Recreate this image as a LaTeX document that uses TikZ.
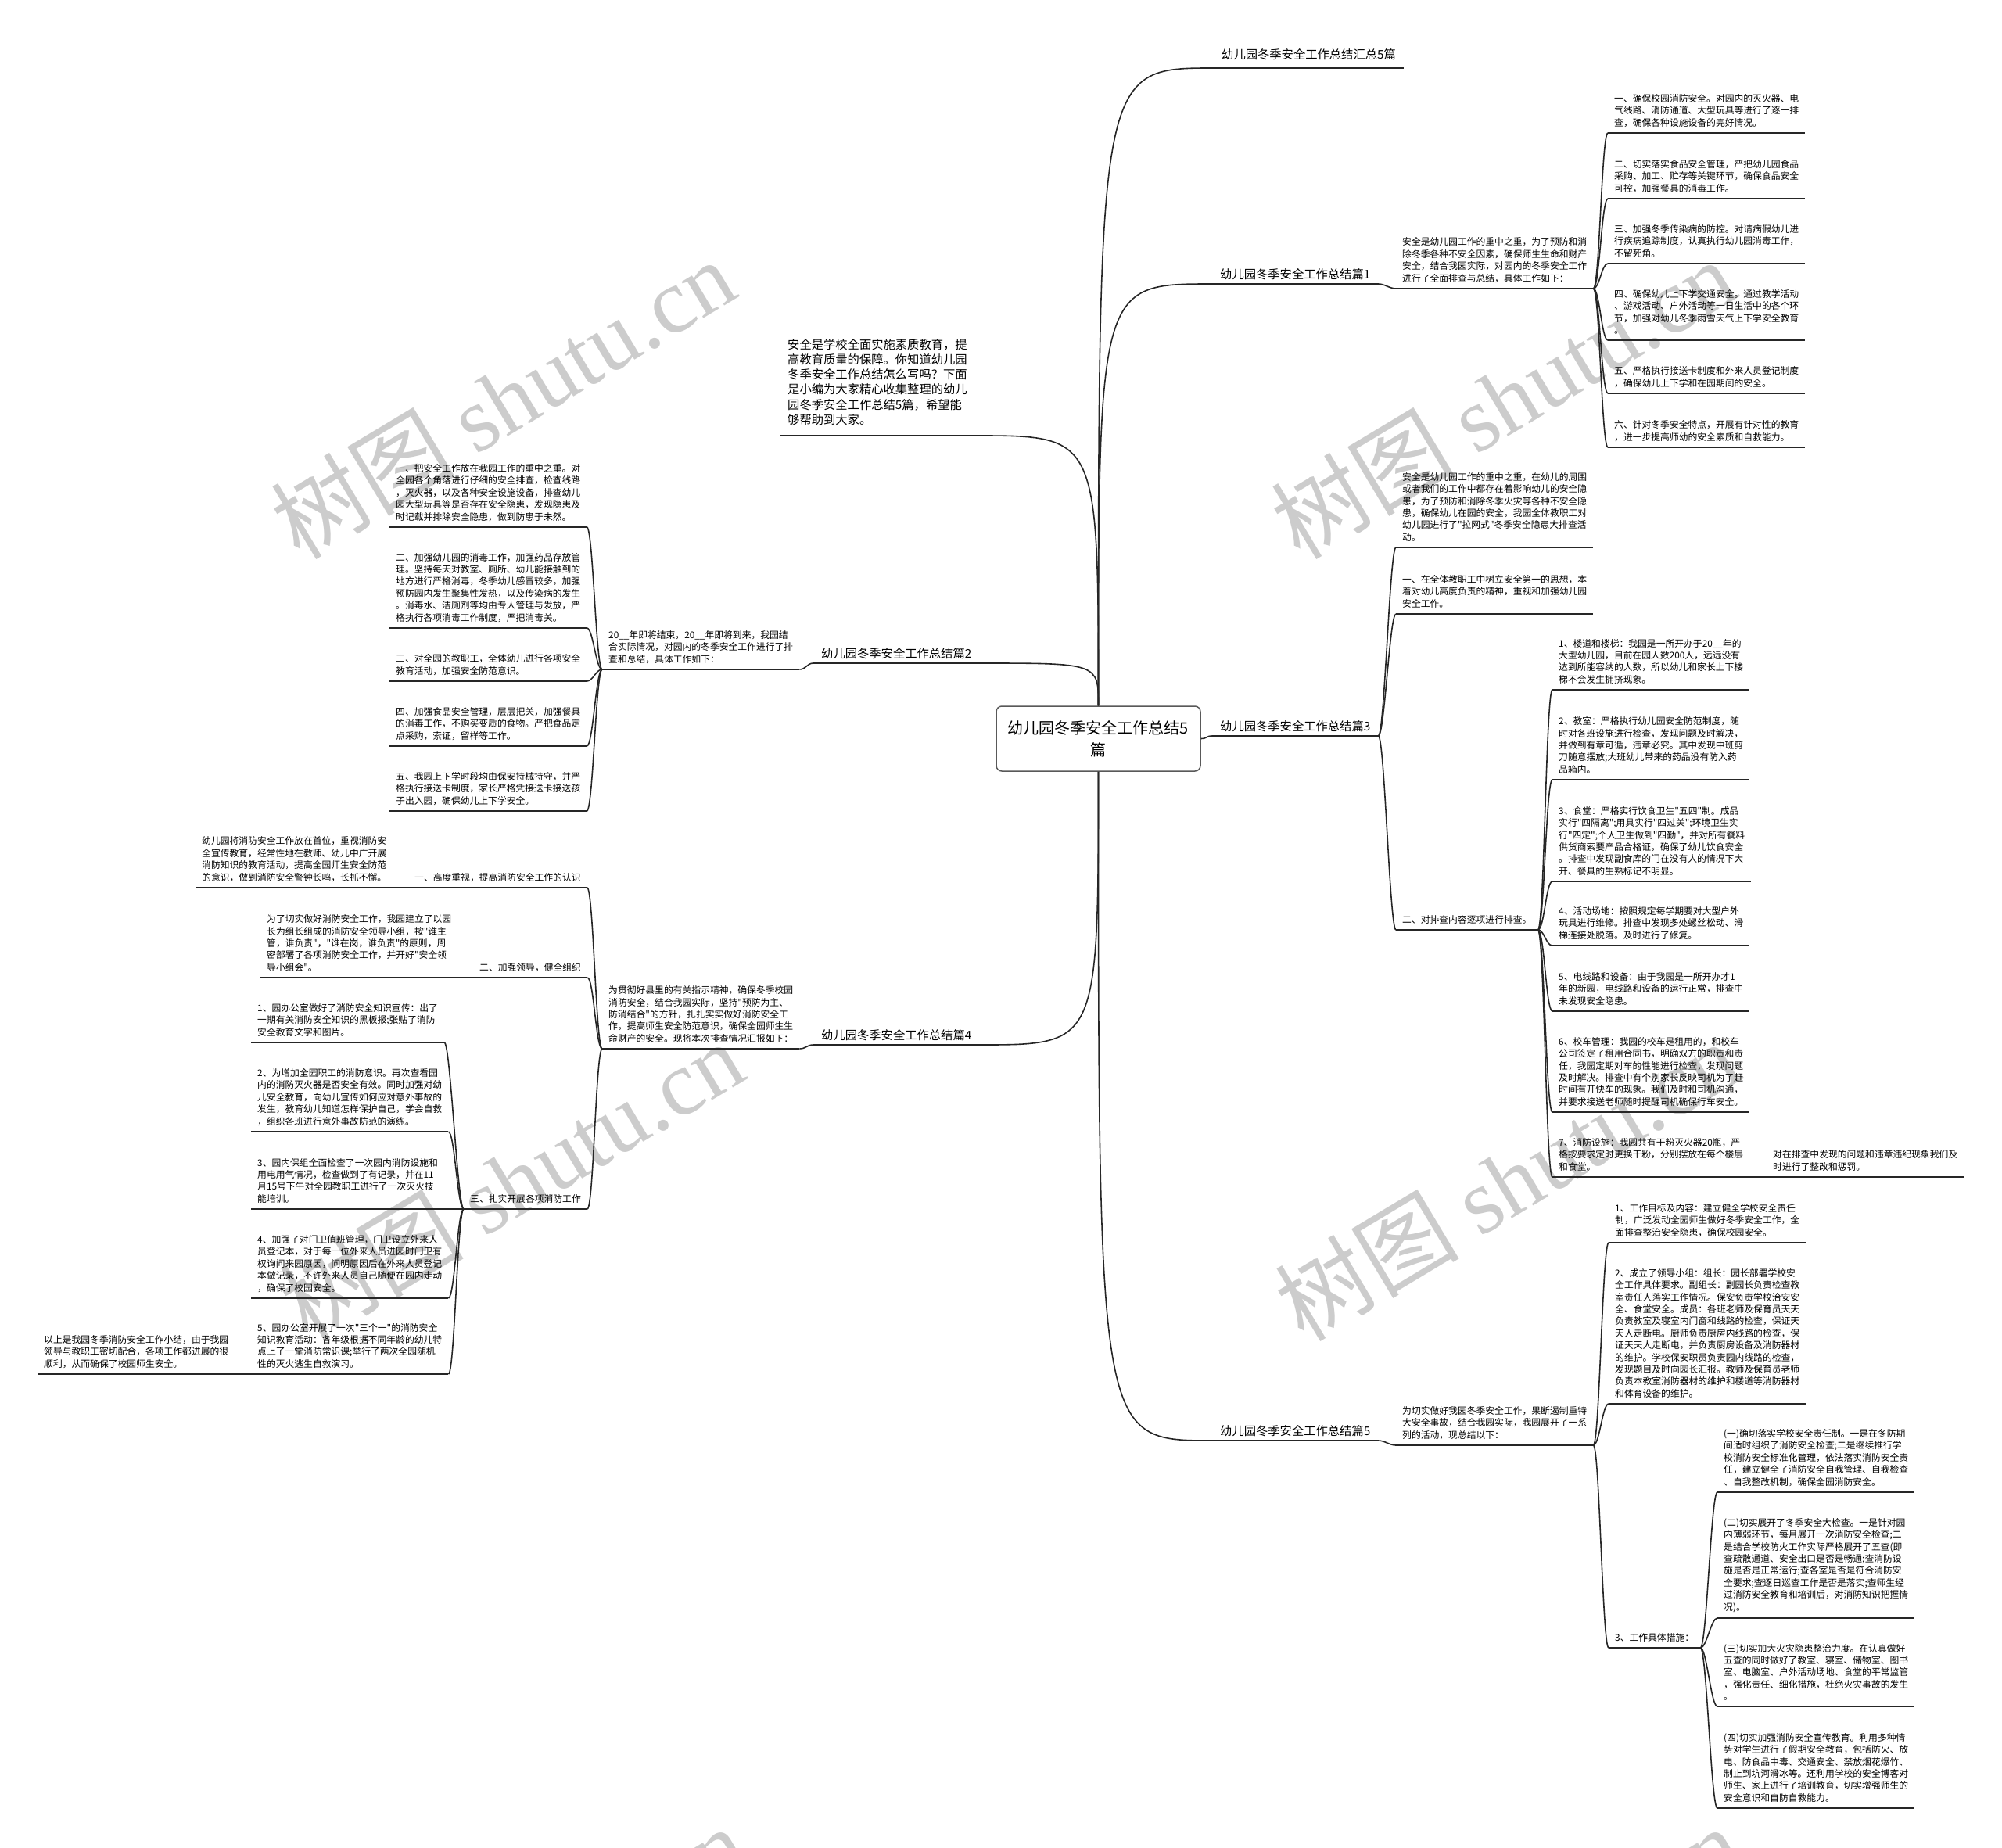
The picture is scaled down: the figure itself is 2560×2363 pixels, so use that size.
\documentclass[tikz,border=0pt]{standalone}
\usepackage{fontspec}
\setmainfont{Noto Sans CJK SC}[Ligatures=TeXOff]
\newfontfamily\wmlatin{Liberation Serif}
\newcommand\leaffont{\fontsize{11.8pt}{15.4pt}\selectfont}
\newcommand\headfont{\fontsize{15.3pt}{19pt}\selectfont}
\newcommand\rootfont{\fontsize{20pt}{28pt}\selectfont}
\newcommand\introfont{\fontsize{15.3pt}{19.3pt}\selectfont}
\tikzset{
  leaf/.style={font=\leaffont, align=left, anchor=south west, inner xsep=8pt, inner ysep=7.5pt},
  head/.style={font=\headfont, align=left, anchor=south west, inner xsep=10pt, inner ysep=5pt},
  intro/.style={font=\introfont, align=left, anchor=south west, inner xsep=10pt, inner ysep=13pt},
  hub/.style={draw=black!65, line width=1.5pt, rounded corners=7pt, fill=white, font=\rootfont,
    align=center, minimum width=261pt, minimum height=83pt},
  uline/.style={draw=black!85, line width=2pt},
  link/.style={draw=black!85, line width=1.6pt},
  wmark/.style={rotate=31, anchor=base west, inner sep=0pt, text=black!20,
    font=\fontsize{118pt}{118pt}\selectfont}
}
\begin{document}
\begin{tikzpicture}[x=1pt,y=-1pt]
\useasboundingbox (0,0) rectangle (2560,2363);
\fill[white] (0,0) rectangle (2560,2363);

\begin{scope}
\clip (0,0) rectangle (2560,2363);
\foreach \x/\y in {383/718,1662/718,394/1718,1667/1718,397/2722,1669/2722}
  \node[wmark] at (\x,\y) {树图 {\wmlatin shutu.cn}};
\end{scope}

\node[hub] (root) at (1404.5,944.5) {幼儿园冬季安全工作总结5\\篇};

% right side
\node[head, inner ysep=10pt] (ta) at (1552,87) {幼儿园冬季安全工作总结汇总5篇};
\node[head] (t1) at (1550,363) {幼儿园冬季安全工作总结篇1};
\node[head] (t3) at (1550,941) {幼儿园冬季安全工作总结篇3};
\node[head] (t5) at (1550,1842) {幼儿园冬季安全工作总结篇5};

\node[leaf] (s1) at (1785,369) {安全是幼儿园工作的重中之重，为了预防和消\\除冬季各种不安全因素，确保师生生命和财产\\安全，结合我园实际，对园内的冬季安全工作\\进行了全面排查与总结，具体工作如下：};
\node[leaf] (s1a) at (2056,170) {一、确保校园消防安全。对园内的灭火器、电\\气线路、消防通道、大型玩具等进行了逐一排\\查，确保各种设施设备的完好情况。};
\node[leaf] (s1b) at (2056,254) {二、切实落实食品安全管理，严把幼儿园食品\\采购、加工、贮存等关键环节，确保食品安全\\可控，加强餐具的消毒工作。};
\node[leaf] (s1c) at (2056,337) {三、加强冬季传染病的防控。对请病假幼儿进\\行疾病追踪制度，认真执行幼儿园消毒工作，\\不留死角。};
\node[leaf] (s1d) at (2056,435) {四、确保幼儿上下学交通安全。通过教学活动\\、游戏活动、户外活动等一日生活中的各个环\\节，加强对幼儿冬季雨雪天气上下学安全教育\\。};
\node[leaf] (s1e) at (2056,503) {五、严格执行接送卡制度和外来人员登记制度\\，确保幼儿上下学和在园期间的安全。};
\node[leaf] (s1f) at (2056,572) {六、针对冬季安全特点，开展有针对性的教育\\，进一步提高师幼的安全素质和自救能力。};

\node[leaf] (s3) at (1785,700) {安全是幼儿园工作的重中之重，在幼儿的周围\\或者我们的工作中都存在着影响幼儿的安全隐\\患，为了预防和消除冬季火灾等各种不安全隐\\患，确保幼儿在园的安全，我园全体教职工对\\幼儿园进行了"拉网式"冬季安全隐患大排查活\\动。};
\node[leaf] (s3a) at (1785,785) {一、在全体教职工中树立安全第一的思想，本\\着对幼儿高度负责的精神，重视和加强幼儿园\\安全工作。};
\node[leaf] (s3b) at (1785,1189) {二、对排查内容逐项进行排查。};
\node[leaf] (s3b1) at (1985,882) {1、楼道和楼梯：我园是一所开办于20\_\_年的\\大型幼儿园，目前在园人数200人，远远没有\\达到所能容纳的人数，所以幼儿和家长上下楼\\梯不会发生拥挤现象。};
\node[leaf] (s3b2) at (1985,997) {2、教室：严格执行幼儿园安全防范制度，随\\时对各班设施进行检查，发现问题及时解决，\\并做到有章可循，违章必究。其中发现中班剪\\刀随意摆放;大班幼儿带来的药品没有防入药\\品箱内。};
\node[leaf] (s3b3) at (1985,1127) {3、食堂：严格实行饮食卫生"五四"制。成品\\实行"四隔离";用具实行"四过关";环境卫生实\\行"四定";个人卫生做到"四勤"，并对所有餐料\\供货商索要产品合格证，确保了幼儿饮食安全\\。排查中发现副食库的门在没有人的情况下大\\开、餐具的生熟标记不明显。};
\node[leaf] (s3b4) at (1985,1209) {4、活动场地：按照规定每学期要对大型户外\\玩具进行维修。排查中发现多处螺丝松动、滑\\梯连接处脱落。及时进行了修复。};
\node[leaf] (s3b5) at (1985,1293) {5、电线路和设备：由于我园是一所开办才1\\年的新园，电线路和设备的运行正常，排查中\\未发现安全隐患。};
\node[leaf] (s3b6) at (1985,1422) {6、校车管理：我园的校车是租用的，和校车\\公司签定了租用合同书，明确双方的职责和责\\任，我园定期对车的性能进行检查，发现问题\\及时解决。排查中有个别家长反映司机为了赶\\时间有开快车的现象。我们及时和司机沟通，\\并要求接送老师随时提醒司机确保行车安全。};
\node[leaf] (s3b7) at (1985,1505) {7、消防设施：我园共有干粉灭火器20瓶，严\\格按要求定时更换干粉，分别摆放在每个楼层\\和食堂。};
\node[leaf] (s3n) at (2259,1505) {对在排查中发现的问题和违章违纪现象我们及\\时进行了整改和惩罚。};

\node[leaf] (s5) at (1785,1848) {为切实做好我园冬季安全工作，果断遏制重特\\大安全事故，结合我园实际，我园展开了一系\\列的活动，现总结以下：};
\node[leaf] (s5a) at (2057,1589) {1、工作目标及内容：建立健全学校安全责任\\制，广泛发动全园师生做好冬季安全工作，全\\面排查整治安全隐患，确保校园安全。};
\node[leaf] (s5b) at (2057,1795) {2、成立了领导小组：组长：园长部署学校安\\全工作具体要求。副组长：副园长负责检查教\\室责任人落实工作情况。保安负责学校治安安\\全、食堂安全。成员：各班老师及保育员天天\\负责教室及寝室内门窗和线路的检查，保证天\\天人走断电。厨师负责厨房内线路的检查，保\\证天天人走断电，并负责厨房设备及消防器材\\的维护。学校保安职员负责园内线路的检查，\\发现题目及时向园长汇报。教师及保育员老师\\负责本教室消防器材的维护和楼道等消防器材\\和体育设备的维护。};
\node[leaf] (s5c) at (2057,2107) {3、工作具体措施：};
\node[leaf] (s5c1) at (2196,1908) {(一)确切落实学校安全责任制。一是在冬防期\\间适时组织了消防安全检查;二是继续推行学\\校消防安全标准化管理，依法落实消防安全责\\任，建立健全了消防安全自我管理、自我检查\\、自我整改机制，确保全园消防安全。};
\node[leaf] (s5c2) at (2196,2069) {(二)切实展开了冬季安全大检查。一是针对园\\内薄弱环节，每月展开一次消防安全检查;二\\是结合学校防火工作实际严格展开了五查(即\\查疏散通道、安全出口是否是畅通;查消防设\\施是否是正常运行;查各室是否是符合消防安\\全要求;查逐日巡查工作是否是落实;查师生经\\过消防安全教育和培训后，对消防知识把握情\\况)。};
\node[leaf] (s5c3) at (2196,2182) {(三)切实加大火灾隐患整治力度。在认真做好\\五查的同时做好了教室、寝室、储物室、图书\\室、电脑室、户外活动场地、食堂的平常监管\\，强化责任、细化措施，杜绝火灾事故的发生\\。};
\node[leaf] (s5c4) at (2196,2312) {(四)切实加强消防安全宣传教育。利用多种情\\势对学生进行了假期安全教育，包括防火、放\\电、防食品中毒、交通安全、禁放烟花爆竹、\\制止到坑河滑冰等。还利用学校的安全博客对\\师生、家上进行了培训教育，切实增强师生的\\安全意识和自防自救能力。};

% left side
\node[intro] (li) at (997,557) {安全是学校全面实施素质教育，提\\高教育质量的保障。你知道幼儿园\\冬季安全工作总结怎么写吗？下面\\是小编为大家精心收集整理的幼儿\\园冬季安全工作总结5篇，希望能\\够帮助到大家。};
\node[head] (t2) at (1040,848) {幼儿园冬季安全工作总结篇2};
\node[head] (t4) at (1040,1336) {幼儿园冬季安全工作总结篇4};

\node[leaf] (s2) at (770,856) {20\_\_年即将结束，20\_\_年即将到来，我园结\\合实际情况，对园内的冬季安全工作进行了排\\查和总结，具体工作如下：};
\node[leaf] (s2a) at (498,674) {一、把安全工作放在我园工作的重中之重。对\\全园各个角落进行仔细的安全排查，检查线路\\，灭火器，以及各种安全设施设备，排查幼儿\\园大型玩具等是否存在安全隐患，发现隐患及\\时记载并排除安全隐患，做到防患于未然。};
\node[leaf] (s2b) at (498,803) {二、加强幼儿园的消毒工作，加强药品存放管\\理。坚持每天对教室、厕所、幼儿能接触到的\\地方进行严格消毒，冬季幼儿感冒较多，加强\\预防园内发生聚集性发热，以及传染病的发生\\。消毒水、洁厕剂等均由专人管理与发放，严\\格执行各项消毒工作制度，严把消毒关。};
\node[leaf] (s2c) at (498,871) {三、对全园的教职工，全体幼儿进行各项安全\\教育活动，加强安全防范意识。};
\node[leaf] (s2d) at (498,954) {四、加强食品安全管理，层层把关，加强餐具\\的消毒工作，不购买变质的食物。严把食品定\\点采购，索证，留样等工作。};
\node[leaf] (s2e) at (498,1037) {五、我园上下学时段均由保安持械持守，并严\\格执行接送卡制度，家长严格凭接送卡接送孩\\子出入园，确保幼儿上下学安全。};

\node[leaf] (s4) at (770,1341) {为贯彻好县里的有关指示精神，确保冬季校园\\消防安全，结合我园实际，坚持"预防为主、\\防消结合"的方针，扎扎实实做好消防安全工\\作，提高师生安全防范意识，确保全园师生生\\命财产的安全。现将本次排查情况汇报如下：};
\node[leaf] (s4a) at (522,1135) {一、高度重视，提高消防安全工作的认识};
\node[leaf] (s4a1) at (250,1135) {幼儿园将消防安全工作放在首位，重视消防安\\全宣传教育，经常性地在教师、幼儿中广开展\\消防知识的教育活动，提高全园师生安全防范\\的意识，做到消防安全警钟长鸣，长抓不懈。};
\node[leaf] (s4b) at (605,1250) {二、加强领导，健全组织};
\node[leaf] (s4b1) at (333,1250) {为了切实做好消防安全工作，我园建立了以园\\长为组长组成的消防安全领导小组，按"谁主\\管，谁负责"，"谁在岗，谁负责"的原则，周\\密部署了各项消防安全工作，并开好"安全领\\导小组会"。};
\node[leaf] (s4c) at (593,1546) {三、扎实开展各项消防工作};
\node[leaf] (s4c1) at (321,1333) {1、园办公室做好了消防安全知识宣传：出了\\一期有关消防安全知识的黑板报;张贴了消防\\安全教育文字和图片。};
\node[leaf] (s4c2) at (321,1447) {2、为增加全园职工的消防意识。再次查看园\\内的消防灭火器是否安全有效。同时加强对幼\\儿安全教育，向幼儿宣传如何应对意外事故的\\发生，教育幼儿知道怎样保护自己，学会自救\\，组织各班进行意外事故防范的演练。};
\node[leaf] (s4c3) at (321,1546) {3、园内保组全面检查了一次园内消防设施和\\用电用气情况，检查做到了有记录，并在11\\月15号下午对全园教职工进行了一次灭火技\\能培训。};
\node[leaf] (s4c4) at (321,1660) {4、加强了对门卫值班管理，门卫设立外来人\\员登记本，对于每一位外来人员进园时门卫有\\权询问来园原因，问明原因后在外来人员登记\\本做记录，不许外来人员自己随便在园内走动\\，确保了校园安全。};
\node[leaf] (s4c5) at (321,1757) {5、园办公室开展了一次"三个一"的消防安全\\知识教育活动：各年级根据不同年龄的幼儿特\\点上了一堂消防常识课;举行了两次全园随机\\性的灭火逃生自救演习。};
\node[leaf] (s4c6) at (48,1757) {以上是我园冬季消防安全工作小结，由于我园\\领导与教职工密切配合，各项工作都进展的很\\顺利，从而确保了校园师生安全。};

\foreach \n in {ta,t1,t3,t5,s1,s1a,s1b,s1c,s1d,s1e,s1f,s3,s3a,s3b,s3b1,s3b2,s3b3,s3b4,s3b5,s3b6,s3b7,s3n,
  s5,s5a,s5b,s5c,s5c1,s5c2,s5c3,s5c4,li,t2,t4,s2,s2a,s2b,s2c,s2d,s2e,
  s4,s4a,s4a1,s4b,s4b1,s4c,s4c1,s4c2,s4c3,s4c4,s4c5,s4c6}
  \draw[uline] (\n.south west) -- (\n.south east);

\draw[link] (root.north) .. controls (root.north |- ta.south west) .. (ta.south west);
\draw[link] (root.north) .. controls (root.north |- t1.south west) .. (t1.south west);
\draw[link] (root.east) .. controls +(8,0) and +(-8,0) .. (t3.south west);
\draw[link] (root.south) .. controls (root.south |- t5.south west) .. (t5.south west);
\draw[link] (root.north) .. controls (root.north |- li.south east) .. (li.south east);
\draw[link] (root.north) .. controls (root.north |- t2.south east) .. (t2.south east);
\draw[link] (root.south) .. controls (root.south |- t4.south east) .. (t4.south east);

\draw[link] (t1.south east) .. controls +(8,0) and +(-8,0) .. (s1.south west);
\draw[link] (t5.south east) .. controls +(8,0) and +(-8,0) .. (s5.south west);
\draw[link] (t2.south west) .. controls +(-8,0) and +(8,0) .. (s2.south east);
\draw[link] (t4.south west) .. controls +(-8,0) and +(8,0) .. (s4.south east);
\foreach \c in {s1a,s1b,s1c,s1d,s1e,s1f}
  \draw[link] (s1.south east) .. controls +(8,0) and +(-8,0) .. (\c.south west);
\foreach \c in {s3,s3a,s3b}
  \draw[link] (t3.south east) .. controls +(8,0) and +(-8,0) .. (\c.south west);
\foreach \c in {s3b1,s3b2,s3b3,s3b4,s3b5,s3b6,s3b7}
  \draw[link] (s3b.south east) .. controls +(8,0) and +(-8,0) .. (\c.south west);
\draw[link] (s3b7.south east) -- (s3n.south west);
\foreach \c in {s5a,s5b,s5c}
  \draw[link] (s5.south east) .. controls +(8,0) and +(-8,0) .. (\c.south west);
\foreach \c in {s5c1,s5c2,s5c3,s5c4}
  \draw[link] (s5c.south east) .. controls +(8,0) and +(-8,0) .. (\c.south west);
\foreach \c in {s2a,s2b,s2c,s2d,s2e}
  \draw[link] (s2.south west) .. controls +(-8,0) and +(8,0) .. (\c.south east);
\foreach \c in {s4a,s4b,s4c}
  \draw[link] (s4.south west) .. controls +(-8,0) and +(8,0) .. (\c.south east);
\draw[link] (s4a.south west) -- (s4a1.south east);
\draw[link] (s4b.south west) -- (s4b1.south east);
\foreach \c in {s4c1,s4c2,s4c3,s4c4,s4c5}
  \draw[link] (s4c.south west) .. controls +(-8,0) and +(8,0) .. (\c.south east);
\draw[link] (s4c5.south west) -- (s4c6.south east);
\end{tikzpicture}
\end{document}
